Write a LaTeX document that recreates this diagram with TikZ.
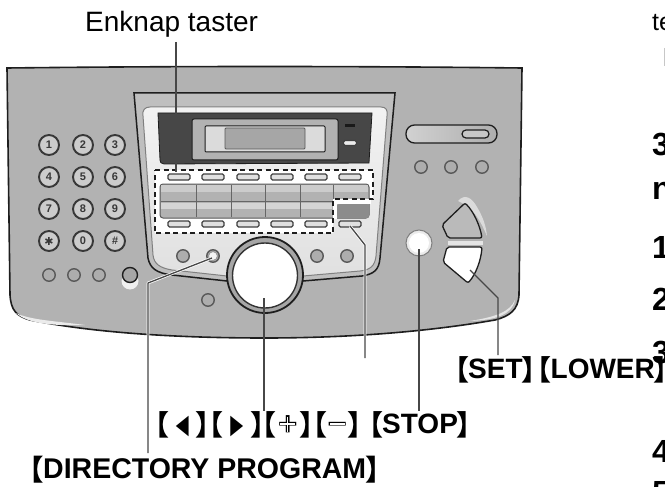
\documentclass[tikz,border=0pt]{standalone}
\usepackage{fontspec}
\usepackage{graphicx}
\setmainfont{Liberation Sans}
\newfontfamily\djv{DejaVu Sans}
\newfontfamily\cjkf{Noto Sans CJK SC}
\usetikzlibrary{calc}
\definecolor{ink}{HTML}{1E1E1E}
\newcommand\LB{\makebox[10pt][r]{\raisebox{-2pt}{\cjkf\bfseries 【}\kern-1pt}}
\newcommand\RB{\makebox[10pt][l]{\kern-1pt\raisebox{-2pt}{\cjkf\bfseries 】}}}
\tikzset{
  ptr/.style={draw=black!72,line width=1.3pt,line join=round},
  halo/.style={draw=white,line width=2.8pt,line join=round},
  keybtn/.style={circle,draw=black!78,line width=1.9pt,fill=black!20,minimum size=20pt,inner sep=0pt,font=\bfseries\fontsize{11}{11}\selectfont,text=black!78},
  roundbtn/.style={circle,draw=black!65,line width=1.4pt,fill=black!32,minimum size=12.5pt,inner sep=0pt},
  slimbtn/.style={rectangle,rounded corners=1.5pt,draw=black!75,line width=1.1pt,fill=black!12,minimum width=22pt,minimum height=6pt,inner sep=0pt},
  dashbox/.style={draw=ink,line width=1.2pt,dash pattern=on 5pt off 3.5pt},
  biglabel/.style={inner sep=0pt,anchor=base west,font=\bfseries\fontsize{28}{28}\selectfont,text=black},
  sidelabel/.style={inner sep=0pt,anchor=base west,font=\bfseries\fontsize{32}{32}\selectfont,text=black},
}
\begin{document}
\begin{tikzpicture}[x=1pt,y=-1pt]
\useasboundingbox (0,0) rectangle (665,487);
\clip (0,0) rectangle (665,487);
% body
\path[draw=ink,line width=1.6pt,fill=black!30]
  (7,68) .. controls (180,66) and (350,66) .. (522,68)
  -- (519,295) .. controls (518,310) and (510,316) .. (495,320)
  .. controls (420,333) and (340,338) .. (265,338)
  .. controls (170,338) and (90,332) .. (30,320)
  .. controls (16,316) and (11,310) .. (10,295) -- cycle;
\fill[black!8] (16,313) .. controls (30,320) and (55,321) .. (85,325) .. controls (55,326) and (28,324) .. (16,313) -- cycle;
\fill[black!10] (515,300) .. controls (510,312) and (495,317) .. (470,321) .. controls (495,320) and (512,315) .. (515,300) -- cycle;
% recessed trapezoid
\path[draw=ink,line width=1.5pt,fill=black!25]
  (134,93) -- (395,93) -- (380,258) .. controls (379,270) and (374,274) .. (362,276)
  -- (303,281) -- (227,281) -- (172,275) .. controls (156,273) and (150,268) .. (148,258) -- cycle;
% white panel
\path[draw=black!50,line width=1pt,top color=black!5,bottom color=black!12]
  (150,107) -- (381,107) .. controls (386,107) and (388,110) .. (387,116)
  -- (376,256) .. controls (375,266) and (370,270) .. (360,271)
  -- (303,276) -- (227,276) -- (172,270) .. controls (160,268) and (154,264) .. (153,255)
  -- (143,116) .. controls (142,110) and (145,107) .. (150,107) -- cycle;
% display
\fill[black!72,draw=ink,line width=.8pt] (158,113) -- (372,113) -- (369,163) -- (164,164) .. controls (161,164) and (160,162) .. (160,160) -- cycle;
\draw[fill=black!30,draw=ink,line width=1pt,rounded corners=2pt] (192,119) rectangle (338,160);
\draw[fill=black!14,draw=ink,line width=1pt,rounded corners=1pt] (205,126) rectangle (325,152);
\draw[fill=black!35,draw=black!65,line width=.8pt,rounded corners=1pt] (225,128) rectangle (305,149);
\fill[black!90] (345,124) rectangle (355,127);
\node[slimbtn,minimum width=13pt,minimum height=5pt,fill=black!8] (dispbtn) at (350,143) {};
% white dashed zone
\fill[white] (155,170) -- (373,170) -- (373,199) -- (333,199) -- (333,233) -- (155,233) -- cycle;
% key block
\path[fill=black!30,draw=black!65,line width=1pt,rounded corners=3pt] (160,184) rectangle (369,218);
\fill[black!20] (161,185) rectangle (368,192);
\fill[black!17] (161,203) rectangle (332,209);
\draw[black!60,line width=.9pt] (161,201) -- (333,201);
\foreach \i in {196,231,265,300,333}{\draw[black!60,line width=.9pt] (\i,185) -- (\i,217);}
\fill[white] (333,199) rectangle (371,204);
\fill[black!45,rounded corners=2pt] (337,204) rectangle (369,218);
\fill[white] (333,204) rectangle (336.5,219);
% dashes
\draw[dashbox] (155,170) -- (373,170) -- (373,199) -- (333,199) -- (333,233) -- (155,233) -- cycle;
% slim buttons
\foreach \n/\i in {a/179,b/213,c/248,d/282,e/316,f/350}{\node[slimbtn] (top\n) at (\i,177) {};}
\foreach \n/\i in {a/179,b/213,c/248,d/282,e/316,f/350}{\node[slimbtn] (low\n) at (\i,224) {};}
% keypad
\foreach \n/\t/\x/\y in {k1/1/49/145,k2/2/83/145,k3/3/115/145,k4/4/49/177,k5/5/83/177,k6/6/115/177,k7/7/49/209,k8/8/83/209,k9/9/115/209,k0/0/83/241}{\node[keybtn] (\n) at (\x,\y) {\t};}
\node[keybtn,font=\djv\fontsize{11}{11}\selectfont] (kstar) at (49,241) {✱};
\node[keybtn,font=\itshape\bfseries\fontsize{11}{11}\selectfont] (khash) at (115,241) {\#};
% lower-left buttons
\fill[black!6] (130,281) circle (8.5);
\node[roundbtn,minimum size=15pt,fill=black!35,draw=ink] (r4) at (130,275) {};
\foreach \n/\x/\y in {r1/49/275,r2/74/275,r3/99/275,c0/208/300,c1/183/256,c2/213/256,c3/317/256,c4/347/256,t1/421/167,t2/451/167,t3/482/167}{\node[roundbtn] (\n) at (\x,\y) {};}
\node[circle,fill=black!4,draw=black!40,line width=1pt,minimum size=9pt,inner sep=0pt] (c2i) at (213,256) {};
% dial
\node[circle,draw=ink,line width=1.8pt,fill=black!35,minimum size=76pt,inner sep=0pt] (dialout) at (265,275) {};
\node[circle,draw=black!80,line width=1.4pt,fill=white,minimum size=65pt,inner sep=0pt] (dial) at (265,275.5) {};
% top-right
\node[rectangle,rounded corners=8.5pt,draw=ink,line width=1.3pt,left color=black!18,right color=black!32,minimum width=91pt,minimum height=18pt,inner sep=0pt] (slot) at (451.5,134) {};
\node[rectangle,rounded corners=4pt,draw=ink,line width=1.2pt,fill=black!22,minimum width=27pt,minimum height=8pt,inner sep=0pt] (knob) at (475.5,134) {};
% stop
\node[circle,fill=black!8,draw=black!50,line width=1pt,minimum size=26pt,inner sep=0pt] (stopring) at (419,243) {};
\node[circle,fill=white,minimum size=20pt,inner sep=0pt] (stop) at (419,243) {};
% rocker
\fill[black!14] (458,201) .. controls (465,193) and (472,198) .. (477,207) .. controls (483,217) and (486,226) .. (487,236) .. controls (480,220) and (474,208) .. (458,201) -- cycle;
\fill[black!10] (448,240.5) rectangle (483,244.5);
\path[draw=ink,line width=1.3pt,fill=black!27,rounded corners=2pt] (442,225) -- (465,203) .. controls (474,212) and (480,226) .. (482,238) -- (448,238) -- cycle;
\path[draw=ink,line width=1.3pt,fill=white,rounded corners=2pt] (447,247) -- (482,247) .. controls (481,260) and (476,274) .. (468,283) -- (443,262) -- cycle;
\coordinate (lowerbtn) at (470,270);
\coordinate (bend1) at (148,283);
\coordinate (bend2) at (365,245);
\coordinate (bend3) at (498,298);
% labels
\node[inner sep=0pt,anchor=base west,font=\fontsize{28}{28}\selectfont] (enknap) at (85,32) {Enknap taster};
\node[biglabel,font=\bfseries\fontsize{28.5}{28.5}\selectfont] (dirlab) at (33,478) {\LB DIRECTORY PROGRAM\RB};
\node[biglabel] (navlab) at (158,433.5) {\LB\makebox[28pt][c]{\scalebox{.62}[1]{\djv\fontsize{27}{27}\selectfont ◀}}\RB\kern6pt\LB\makebox[29pt][c]{\scalebox{.62}[1]{\djv\fontsize{27}{27}\selectfont ▶}}\RB\kern4pt\LB\makebox[25pt][c]{\raisebox{-2pt}{\fontsize{34}{34}\selectfont +}}\RB\kern6pt\LB\makebox[22pt][c]{\raisebox{-2pt}{\fontsize{34}{34}\selectfont −}}\RB\kern14pt\LB STOP\RB};
\draw[white,line width=1.1pt] (280,424) -- (295,424) (287.5,416.5) -- (287.5,431.5) (330,424) -- (345,424);
\node[inner sep=0pt,anchor=base west,font=\fontsize{25}{25}\selectfont] (te) at (652,31) {te};
\node[sidelabel] (s3) at (652,155) {3};
\node[sidelabel] (sn) at (652,200) {n};
\node[sidelabel] (s1) at (652,258) {1};
\node[sidelabel] (s2) at (652,310) {2};
\node[sidelabel] (s3b) at (652,363) {3};
\node[sidelabel] (s4) at (652,462) {4};
\node[sidelabel] (s5) at (652,503) {5};
\node[biglabel] (setlab) at (458,378) {\LB SET\RB\kern8pt\LB LOWER\RB};
\draw[black!22,line width=1pt] (664,48) -- (664,66);
% connectors
\coordinate (e0) at (176,42);
\coordinate (e1) at (176,172);
\coordinate (d0) at (212,258);
\coordinate (d1) at (148,453);
\coordinate (n0) at (264,298);
\coordinate (n1) at (264,411);
\coordinate (m0) at (350,226);
\coordinate (m1) at (365,358);
\coordinate (o0) at (419,249);
\coordinate (o1) at (419,411);
\coordinate (l1) at (498,355);
\draw[halo] (e1) -- (176,60);
\draw[halo] (d0) -- (bend1) -- (148,336);
\draw[halo] (m0) -- (bend2) -- (365,336);
\draw[ptr] (e0) -- (e1);
\draw[ptr] (d0) -- (bend1) -- (d1);
\draw[ptr] (n0) -- (n1);
\draw[ptr] (m0) -- (bend2) -- (m1);
\draw[ptr] (o0) -- (o1);
\draw[ptr] (lowerbtn) -- (bend3) -- (l1);
\end{tikzpicture}
\end{document}
